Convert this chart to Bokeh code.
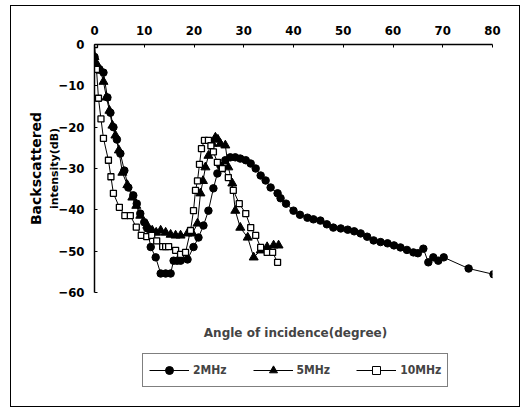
from bokeh.plotting import figure
from bokeh.layouts import column
from bokeh.models import Range1d, LinearAxis, Legend, LegendItem, FixedTicker, Label
from bokeh.embed import file_html
from bokeh.resources import INLINE

x_ticks = [0, 10, 20, 30, 40, 50, 60, 70, 80]
y_ticks = [0, -10, -20, -30, -40, -50, -60]

x_2mhz = [0, 0.2, 1.0, 1.8, 2.6, 3.2, 3.8, 4.5, 5.2, 6.0, 6.8, 7.8, 8.5, 9.2, 10.0, 10.6, 11.3, 12.3,
          13.3, 14.3, 15.3, 15.9, 16.6, 17.3, 18.7, 19.9, 20.9, 21.9, 22.9, 23.9, 24.7, 25.3, 26.3,
          27.3, 28.3, 29.3, 30.4, 31.4, 32.4, 33.4, 34.4, 35.4, 36.8, 37.4, 38.5, 40.0, 41.3, 42.8,
          44.0, 45.4, 46.7, 48.0, 49.5, 50.9, 52.2, 53.5, 54.8, 56.1, 57.5, 58.9, 60.2, 61.5, 62.8,
          64.1, 65.0, 66.1, 67.1, 68.1, 69.1, 70.2, 75.2, 80.2]
y_2mhz = [-3, -5.5, -6, -6.8, -12.8, -16.5, -20, -23, -26.4, -30.5, -34.6, -36.5, -38.5, -40.9, -43,
          -44.5, -49, -51.5, -55.4, -55.4, -55.4, -52.3, -52.3, -52.3, -52, -49, -46.7, -43.8, -40.2,
          -34.8, -31.2, -29.3, -28, -27.3, -27.3, -27.6, -28, -28.8, -30, -31.7, -32.9, -34.6, -36,
          -37.2, -38.5, -40.2, -41.2, -41.9, -42.3, -42.6, -43.5, -44.3, -44.5, -44.8, -45.2, -45.7,
          -46.5, -47.4, -47.8, -48.1, -48.6, -49.1, -49.7, -50.3, -50.5, -49.4, -52.7, -51.5, -52.3,
          -51.5, -54.2, -55.6]

x_5mhz = [0, 0.4, 1.2, 1.8, 2.4, 3.0, 3.6, 4.2, 4.9, 5.6, 6.6, 7.6, 8.4, 9.2, 10.6, 11.6, 12.4, 13.3,
          14.3, 15.3, 16.3, 17.3, 18.7, 19.7, 20.7, 21.3, 21.8, 22.3, 22.9, 23.7, 24.3, 24.8, 25.3,
          26.3, 26.9, 27.7, 28.3, 29.3, 30.8, 32.0, 33.4, 34.7, 36.0, 37.0]
y_5mhz = [-3, -4.6, -6.3, -9, -12.8, -16, -19.6, -22, -25.6, -31, -34, -37, -39, -41.4, -43.8, -45,
          -45.5, -45, -45.5, -46, -46.2, -46.2, -45.7, -45.7, -43.3, -36, -33, -29.7, -26.9, -24,
          -22.5, -23, -24, -24.4, -29.7, -33.6, -40.2, -44.3, -46.7, -51.5, -49.8, -49, -48.6, -48.6]

x_10mhz = [0, 0.4, 0.8, 1.3, 1.8, 2.8, 3.3, 3.8, 5.0, 6.1, 7.2, 8.4, 9.4, 10.5, 11.5, 12.5, 13.7,
           14.3, 14.9, 16.3, 17.3, 18.3, 19.3, 19.9, 20.3, 20.7, 21.1, 21.5, 22.1, 22.9, 23.4, 23.9,
           24.7, 25.7, 26.9, 27.9, 29.1, 30.4, 31.4, 32.4, 33.4, 34.7, 35.8, 36.8]
y_10mhz = [0, -6, -13, -18, -22.7, -28, -32, -36, -39.4, -41.4, -41.4, -44.2, -46.2, -46.5, -46.2,
           -47.5, -48.9, -48.9, -48.9, -49.8, -50.8, -50.3, -45, -40.2, -35.3, -33, -29, -25.2, -23.2,
           -23.2, -24.5, -26, -28.5, -30, -32.2, -35.3, -38.5, -40.9, -44.3, -46.2, -49.1, -50.3,
           -50.3, -52.7]

series_names = ["2MHz", "5MHz", "10MHz"]
x_title = "Angle of incidence(degree)"
y_title_1 = "Backscattered"
y_title_2 = "intensity(dB)"

FONT = "'Liberation Sans Narrow', 'DejaVu Sans Condensed', sans-serif"
FONT2 = "'DejaVu Sans', sans-serif"

# ---- main chart ----
p = figure(width=508, height=294, output_backend="svg", toolbar_location=None,
           x_range=Range1d(0, 80), y_range=Range1d(-60, 0),
           x_axis_location=None, y_axis_location=None,
           min_border_left=83, min_border_right=27, min_border_top=38, min_border_bottom=8)
p.outline_line_color = None
p.grid.visible = False
p.background_fill_color = "white"
p.border_fill_color = "white"

xa = LinearAxis(ticker=FixedTicker(ticks=x_ticks))
ya = LinearAxis(ticker=FixedTicker(ticks=y_ticks))
for ax in (xa, ya):
    ax.axis_line_color = "black"
    ax.axis_line_width = 1.5
    ax.major_tick_in = 3
    ax.major_tick_out = 0
    ax.minor_tick_line_color = None
    ax.major_label_text_font = FONT
    ax.major_label_text_font_style = "bold"
    ax.major_label_text_font_size = "13px"
    ax.major_label_text_color = "black"
    ax.major_label_standoff = 10
p.add_layout(xa, "above")
p.add_layout(ya, "left")


def title_axis(label, size, standoff):
    a = LinearAxis(ticker=FixedTicker(ticks=[]), axis_label=label)
    a.axis_line_color = None
    a.major_tick_in = 0
    a.major_tick_out = 0
    a.minor_tick_line_color = None
    a.major_label_standoff = 0
    a.major_label_text_font_size = "0px"
    a.axis_label_standoff = standoff
    a.axis_label_text_font = FONT2
    a.axis_label_text_font_style = "bold"
    a.axis_label_text_font_size = size
    a.axis_label_text_color = "black"
    return a


p.add_layout(title_axis(y_title_2, "11px", -5), "left")
p.add_layout(title_axis(y_title_1, "14px", 1), "left")

line_kw = dict(line_color="black", line_width=1)
mark_1 = dict(marker="circle", size=7.5, fill_color="black", line_color="black")
mark_2 = dict(marker="triangle", size=9, fill_color="black", line_color="black")
mark_3 = dict(marker="square", size=6, fill_color="white", line_color="black", line_width=1.3)

p.line(x_2mhz, y_2mhz, **line_kw)
p.scatter(x_2mhz, y_2mhz, **mark_1)
p.line(x_5mhz, y_5mhz, **line_kw)
p.scatter(x_5mhz, y_5mhz, **mark_2)
p.line(x_10mhz, y_10mhz, **line_kw)
p.scatter(x_10mhz, y_10mhz, **mark_3)

# ---- bottom strip: axis title and legend (series drawn again but outside its view) ----
q = figure(width=508, height=106, output_backend="svg", toolbar_location=None,
           x_range=Range1d(0, 80), y_range=Range1d(100, 206),
           x_axis_location=None, y_axis_location=None,
           min_border_left=83, min_border_right=27, min_border_top=0, min_border_bottom=0)
q.outline_line_color = None
q.grid.visible = False
q.background_fill_color = "white"
q.border_fill_color = "white"

q.add_layout(Label(x=40.4, y=174, text=x_title, text_align="center", text_baseline="middle",
                   text_font=FONT2, text_font_style="bold", text_font_size="12px"))

l1 = q.line(x_2mhz, y_2mhz, **line_kw)
g1 = q.scatter(x_2mhz, y_2mhz, marker="circle", size=6, fill_color="black", line_color="black")
l2 = q.line(x_5mhz, y_5mhz, **line_kw)
g2 = q.scatter(x_5mhz, y_5mhz, marker="triangle", size=7, fill_color="black", line_color="black")
l3 = q.line(x_10mhz, y_10mhz, **line_kw)
g3 = q.scatter(x_10mhz, y_10mhz, marker="square", size=5, fill_color="white", line_color="black")

legend = Legend(items=[LegendItem(label=series_names[0], renderers=[l1, g1]),
                       LegendItem(label=series_names[1], renderers=[l2, g2]),
                       LegendItem(label=series_names[2], renderers=[l3, g3])],
                orientation="horizontal", location=(48, 19),
                border_line_color="black", border_line_width=1.2,
                label_text_font=FONT, label_text_font_style="bold", label_text_font_size="12px",
                glyph_width=40, label_standoff=4, spacing=26, padding=6, margin=0,
                background_fill_alpha=1)
q.add_layout(legend, "center")

layout = column(p, q, spacing=0,
                styles={"margin-left": "10px", "margin-top": "5px", "border": "1px solid black"})

open("out.html", "w").write(file_html(layout, INLINE))
